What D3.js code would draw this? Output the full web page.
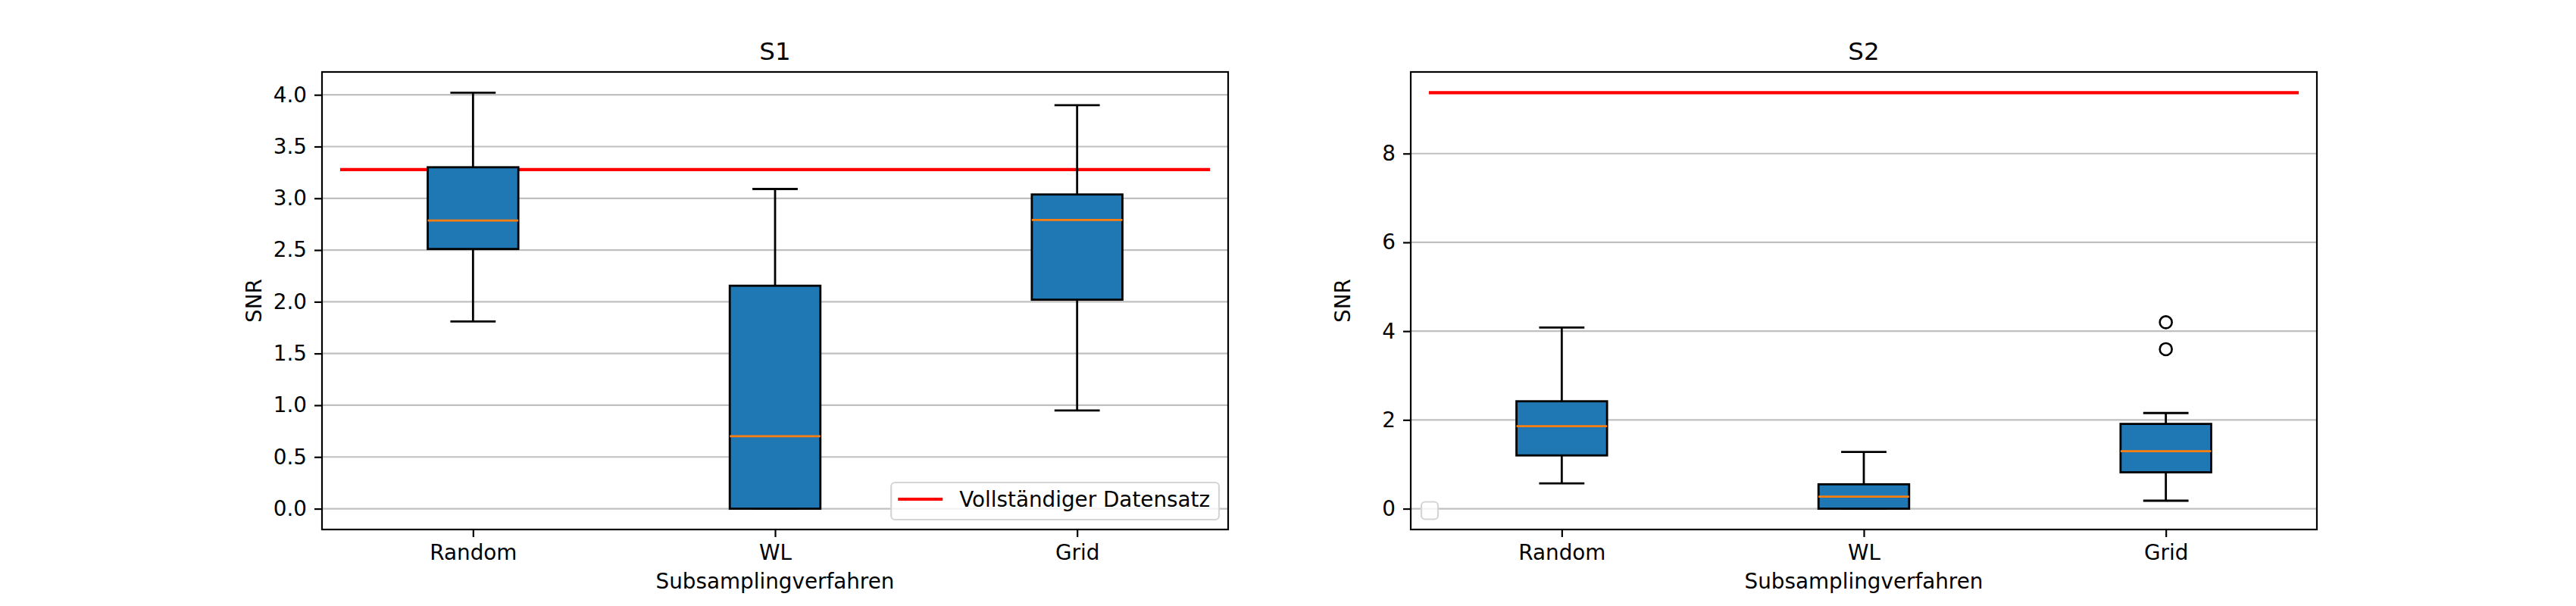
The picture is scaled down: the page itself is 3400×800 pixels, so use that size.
<!DOCTYPE html>
<html>
<head>
<meta charset="utf-8">
<script src="https://cdn.jsdelivr.net/npm/d3@7"></script>
<style>
  body { margin: 0; background: #fff; }
  svg { display: block; font-family: "DejaVu Sans", sans-serif; }
</style>
</head>
<body>
<svg id="chart" width="3400" height="800"></svg>
<script>
// data
const categories = ["Random", "WL", "Grid"];

const s1Low = [1.81, 0.0, 0.95];
const s1Q1 = [2.51, 0.0, 2.02];
const s1Median = [2.785, 0.70, 2.79];
const s1Q3 = [3.30, 2.155, 3.037];
const s1High = [4.02, 3.09, 3.90];
const s1Outliers = [[], [], []];
const s1Full = 3.278;
const s1Ticks = [0.0, 0.5, 1.0, 1.5, 2.0, 2.5, 3.0, 3.5, 4.0];

const s2Low = [0.57, 0.0, 0.18];
const s2Q1 = [1.20, 0.0, 0.82];
const s2Median = [1.86, 0.27, 1.297];
const s2Q3 = [2.42, 0.55, 1.91];
const s2High = [4.08, 1.28, 2.155];
const s2Outliers = [[], [], [4.20, 3.594]];
const s2Full = 9.37;
const s2Ticks = [0, 2, 4, 6, 8];

const legendLabel = "Vollständiger Datensatz";

const svg = d3.select("#chart");
const axTop = 95, axBottom = 699, axW = 1196;
const fs = "27.8px";

function panel(x0, title, low, q1, med, q3, high, outl, full, ticks, fmt, withLabel) {
  const g = svg.append("g");
  const x = d3.scaleLinear().domain([0.5, 3.5]).range([x0, x0 + axW]);
  const allVals = [].concat(low, high, outl.flat(), [full]);
  const lo = d3.min(allVals), hi = d3.max(allVals);
  const pad = (hi - lo) * 0.05;
  const y = d3.scaleLinear().domain([lo - pad, hi + pad]).range([axBottom, axTop]);

  // grid
  g.append("g").selectAll("line").data(ticks).join("line")
    .attr("x1", x0).attr("x2", x0 + axW)
    .attr("y1", d => y(d)).attr("y2", d => y(d))
    .attr("stroke", "#c0c0c0").attr("stroke-width", 2.2);

  // full dataset line (axes fraction 0.02..0.98)
  g.append("line")
    .attr("x1", x0 + axW * 0.02).attr("x2", x0 + axW * 0.98)
    .attr("y1", y(full)).attr("y2", y(full))
    .attr("stroke", "#ff0000").attr("stroke-width", 4.2);

  const idx = d3.range(categories.length);
  const bw = 0.3;
  const boxes = g.append("g").selectAll("g").data(idx).join("g");
  // whiskers
  boxes.append("line")
    .attr("x1", i => x(i + 1)).attr("x2", i => x(i + 1))
    .attr("y1", i => y(q3[i])).attr("y2", i => y(high[i]))
    .attr("stroke", "#000").attr("stroke-width", 2.8);
  boxes.append("line")
    .attr("x1", i => x(i + 1)).attr("x2", i => x(i + 1))
    .attr("y1", i => y(q1[i])).attr("y2", i => y(low[i]))
    .attr("stroke", "#000").attr("stroke-width", 2.8);
  // caps
  [high, low].forEach(arr => {
    boxes.append("line")
      .attr("x1", i => x(i + 1 - bw / 4)).attr("x2", i => x(i + 1 + bw / 4))
      .attr("y1", i => y(arr[i])).attr("y2", i => y(arr[i]))
      .attr("stroke", "#000").attr("stroke-width", 2.8);
  });
  boxes.append("rect")
    .attr("x", i => x(i + 1 - bw / 2))
    .attr("width", x(1 + bw / 2) - x(1 - bw / 2))
    .attr("y", i => y(q3[i]))
    .attr("height", i => y(q1[i]) - y(q3[i]))
    .attr("fill", "#1f77b4").attr("stroke", "#000").attr("stroke-width", 2.8);
  boxes.append("line")
    .attr("x1", i => x(i + 1 - bw / 2)).attr("x2", i => x(i + 1 + bw / 2))
    .attr("y1", i => y(med[i])).attr("y2", i => y(med[i]))
    .attr("stroke", "#ff7f0e").attr("stroke-width", 2.8);
  boxes.each(function (i) {
    d3.select(this).selectAll("circle").data(outl[i]).join("circle")
      .attr("cx", x(i + 1)).attr("cy", d => y(d)).attr("r", 8)
      .attr("fill", "none").attr("stroke", "#000").attr("stroke-width", 2.6);
  });

  // axes
  const yAxis = g.append("g").attr("transform", `translate(${x0},0)`)
    .call(d3.axisLeft(y).tickValues(ticks).tickFormat(fmt).tickSize(10).tickPadding(10));
  const xAxis = g.append("g").attr("transform", `translate(0,${axBottom})`)
    .call(d3.axisBottom(x).tickValues([1, 2, 3]).tickFormat(d => categories[d - 1]).tickSize(10).tickPadding(10));
  [yAxis, xAxis].forEach(a => {
    a.select(".domain").remove();
    a.selectAll(".tick line").attr("stroke", "#000").attr("stroke-width", 2.2);
    a.selectAll("text").attr("fill", "#000").style("font-size", fs)
      .style("font-family", "DejaVu Sans");
  });

  // frame
  g.append("rect").attr("x", x0).attr("y", axTop).attr("width", axW).attr("height", axBottom - axTop)
    .attr("fill", "none").attr("stroke", "#000").attr("stroke-width", 2.2);

  g.append("text").attr("x", x0 + axW / 2).attr("y", 79)
    .attr("text-anchor", "middle").style("font-size", "32.5px").text(title);
  g.append("text").attr("x", x0 + axW / 2).attr("y", 777)
    .attr("text-anchor", "middle").style("font-size", fs).text("Subsamplingverfahren");
  g.append("text")
    .attr("transform", `translate(${x0 - 80},${(axTop + axBottom) / 2}) rotate(-90)`)
    .attr("text-anchor", "middle").style("font-size", fs).text("SNR");

  // legend
  const lg = g.append("g");
  if (withLabel) {
    const frame = lg.append("rect");
    const txt = lg.append("text").style("font-size", fs).text(legendLabel);
    const tw = txt.node().getComputedTextLength();
    const w = 9 + 59 + 22 + tw + 12, h = 49;
    const lx = x0 + axW - 12 - w, ly = axBottom - 13 - h;
    frame.attr("x", lx).attr("y", ly).attr("width", w).attr("height", h)
      .attr("rx", 5).attr("fill", "#fff").attr("fill-opacity", 0.8)
      .attr("stroke", "#d5d5d5").attr("stroke-width", 2.2);
    lg.append("line").attr("x1", lx + 9).attr("x2", lx + 68)
      .attr("y1", ly + 22).attr("y2", ly + 22)
      .attr("stroke", "#ff0000").attr("stroke-width", 4.2);
    txt.attr("x", lx + 90).attr("y", ly + 32);
  } else {
    lg.append("rect").attr("x", x0 + 14).attr("y", axBottom - 13.5 - 23)
      .attr("width", 22).attr("height", 23).attr("rx", 5)
      .attr("fill", "#fff").attr("fill-opacity", 0.8)
      .attr("stroke", "#d5d5d5").attr("stroke-width", 2.2);
  }
}

panel(425, "S1", s1Low, s1Q1, s1Median, s1Q3, s1High, s1Outliers, s1Full, s1Ticks, d3.format(".1f"), true);
panel(1862, "S2", s2Low, s2Q1, s2Median, s2Q3, s2High, s2Outliers, s2Full, s2Ticks, d3.format("d"), false);
</script>
</body>
</html>
